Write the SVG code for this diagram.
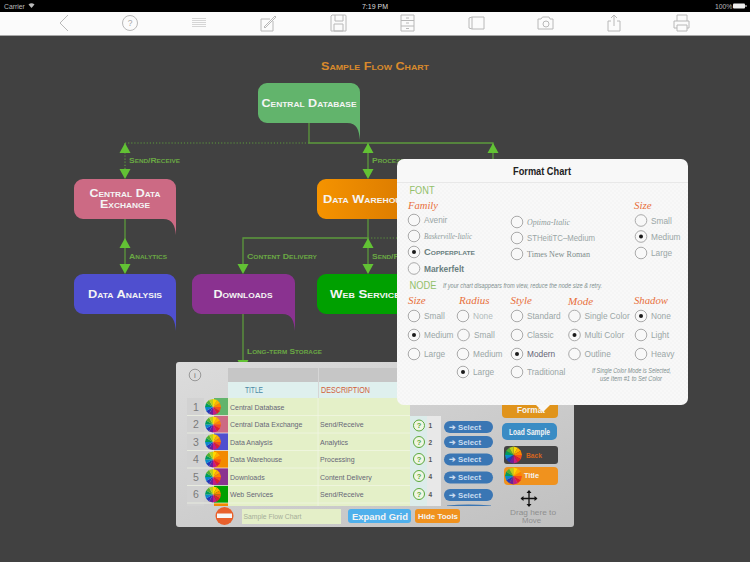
<svg xmlns="http://www.w3.org/2000/svg" width="750" height="562" viewBox="0 0 750 562">
<style>
.sans{font-family:"Liberation Sans",Arial,sans-serif}
.node-shape{stroke:none}
.nt{font-family:"Liberation Sans",Arial,sans-serif;font-variant:small-caps;font-weight:700;fill:#f4f4f4;font-size:10.500px;text-anchor:middle}
.cl{font-family:"Liberation Sans",Arial,sans-serif;font-variant:small-caps;font-weight:700;fill:#6aa844;font-size:8px}
.line{stroke:#5c9a3c;stroke-width:1.300;fill:none}
.dot{stroke:#5c9a3c;stroke-width:1.200;fill:none;stroke-dasharray:1.200 1.900}
.ah{fill:#62c234}
.icon{stroke:#b8b8b8;stroke-width:1;fill:none}
.head{font-family:"Liberation Serif","Times New Roman",serif;font-style:italic;fill:#e8703c;font-size:11px}
.sec{font-family:"Liberation Sans",Arial,sans-serif;fill:#93c06a;font-size:10px}
.r{fill:#f8f8f8;stroke:#aaa;stroke-width:1}
.d{fill:#1a1a1a}
.o{font-family:"Liberation Sans",Arial,sans-serif;fill:#9aa6a6;font-size:8.300px}
.oi{font-family:"Liberation Serif","Times New Roman",serif;font-style:italic;fill:#8f9c9c;font-size:9px}
.note{font-family:"Liberation Sans",Arial,sans-serif;font-style:italic;fill:#7f8f8f;font-size:6.800px}
.cell{font-family:"Liberation Sans",Arial,sans-serif;fill:#667;font-size:7px}
.num{font-family:"Liberation Sans",Arial,sans-serif;fill:#7a7a7a;font-size:10.500px;text-anchor:middle}
.sel{fill:#3a76b4}
.seltx{font-family:"Liberation Sans",Arial,sans-serif;font-weight:700;fill:#c8dcf0;font-size:7.500px}
.hand{font-family:"Liberation Sans",Arial,sans-serif;font-weight:700;fill:#f4f4f4}
.q{fill:#f0f6e4;stroke:#5aa83c;stroke-width:1}
.qt{font-family:"Liberation Sans",Arial,sans-serif;fill:#5aa83c;font-size:7.500px;text-anchor:middle;font-weight:700}
.n2{font-family:"Liberation Sans",Arial,sans-serif;fill:#555;font-size:6.500px;font-weight:700}
</style>
<defs>
<pattern id="tex" width="4" height="4" patternUnits="userSpaceOnUse"><circle cx="1" cy="1" r=".7" fill="#eeeeee"/><circle cx="3" cy="3" r=".7" fill="#eeeeee"/></pattern>
<linearGradient id="toolbg" x1="0" y1="0" x2="1" y2="1"><stop offset="0" stop-color="#dcdcdc"/><stop offset="1" stop-color="#c0c0c0"/></linearGradient>
<linearGradient id="orangeg" x1="0" y1="0" x2="1" y2="0"><stop offset="0" stop-color="#f59300"/><stop offset="1" stop-color="#d87800"/></linearGradient>
<symbol id="wheel" viewBox="-10 -10 20 20" overflow="visible">
<path d="M0,0L0,-10L5,-8.660Z" fill="#ffd800"/><path d="M0,0L5,-8.660L8.660,-5Z" fill="#ffb000"/><path d="M0,0L8.660,-5L10,0Z" fill="#ff8400"/>
<path d="M0,0L10,0L8.660,5Z" fill="#f4501c"/><path d="M0,0L8.660,5L5,8.660Z" fill="#e01c30"/><path d="M0,0L5,8.660L0,10Z" fill="#c41a84"/>
<path d="M0,0L0,10L-5,8.660Z" fill="#6a1f9c"/><path d="M0,0L-5,8.660L-8.660,5Z" fill="#2238b8"/><path d="M0,0L-8.660,5L-10,0Z" fill="#0a88cc"/>
<path d="M0,0L-10,0L-8.660,-5Z" fill="#009c5c"/><path d="M0,0L-8.660,-5L-5,-8.660Z" fill="#52b030"/><path d="M0,0L-5,-8.660L0,-10Z" fill="#b8d020"/>
</symbol>
</defs>

<rect width="750" height="562" fill="#414141"/>

<g id="statusbar">
<rect width="750" height="12" fill="#000"/>
<text class="sans" x="4" y="8.500" font-size="6.800" fill="#bbb">Carrier</text>
<path d="M28.500,4.500Q31.500,2 34.500,4.500L31.500,8Z" fill="#bbb"/>
<text class="sans" x="375" y="8.500" font-size="7" fill="#ddd" text-anchor="middle">7:19 PM</text>
<text class="sans" x="715" y="8.500" font-size="6.800" fill="#bbb">100%</text>
<rect x="733" y="3.500" width="12" height="5" rx="1" fill="#eee"/><rect x="745.500" y="5" width="1" height="2" fill="#eee"/>
</g>

<g id="toolbar">
<rect y="12" width="750" height="23" fill="#fbfbfb"/>
<rect y="35" width="750" height="1" fill="#a8a8a8"/>
<path class="icon" d="M68,15L60,23L68,31"/>
<circle class="icon" cx="130" cy="23" r="7.500"/><text class="sans" x="130" y="26" font-size="8.500" fill="#a8a8a8" text-anchor="middle">?</text>
<path class="icon" style="stroke-width:.7;stroke:#c4c4c4" d="M192,18.500H206M192,20.500H206M192,22.500H206M192,24.500H206M192,26.500H206"/>
<path class="icon" d="M273,21V31H261V19H270M264,27L275,16L276,17L265,28Z"/>
<path class="icon" d="M332,15H345A1,1 0 0 1 346,16V31H331V16ZM335,15V21H343V15M334,24H343V31H334Z"/>
<path class="icon" d="M401,15H414V31H401ZM401,20.500H414M401,26H414M406,18H409M406,23H409M406,28.500H409"/>
<path class="icon" d="M472,17H484V29H472ZM472,17L469,18V28L472,29"/>
<path class="icon" d="M538,19H541L542.500,17H549L550,19H553V29H538Z"/><circle class="icon" cx="546" cy="24" r="3"/>
<path class="icon" d="M611,21H608V31H620V21H617M614,26V15M611,18L614,15L617,18"/>
<path class="icon" d="M677,21V15H687V21M677,28H674V21H689V28H687M677,25H687V31H677Z"/>
</g>

<text id="chart-title" class="sans" x="321" y="70" font-size="10" font-weight="700" fill="#d98a2c" style="font-variant:small-caps" textLength="108" lengthAdjust="spacingAndGlyphs">Sample Flow Chart</text>

<g id="connectors">
<path class="line" d="M309,123V143H493V159"/>
<path class="dot" d="M125,143H309"/>
<path class="dot" d="M125,143V170"/>
<path class="line" d="M368,143V170"/>
<path class="line" d="M125,219V265"/>
<path class="line" d="M368,219V265"/>
<path class="line" d="M368,238H243V265"/>
<path class="dot" d="M368,238H397"/>
<path class="line" d="M243,314V362"/>
<polygon class="ah" points="125,143 130.500,153 119.500,153"/>
<polygon class="ah" points="125,179 119.500,169 130.500,169"/>
<polygon class="ah" points="368,143 373.500,153 362.500,153"/>
<polygon class="ah" points="368,179 362.500,169 373.500,169"/>
<polygon class="ah" points="493,143 498.500,153 487.500,153"/>
<polygon class="ah" points="125,238 130.500,248 119.500,248"/>
<polygon class="ah" points="125,274 119.500,264 130.500,264"/>
<polygon class="ah" points="368,238 373.500,248 362.500,248"/>
<polygon class="ah" points="368,274 362.500,264 373.500,264"/>
<polygon class="ah" points="243,274 237.500,264 248.500,264"/>
<polygon class="ah" points="243,370 237.500,360 248.500,360"/>
<text class="cl" x="129" y="163" textLength="51" lengthAdjust="spacingAndGlyphs">Send/Receive</text>
<text class="cl" x="372" y="163" textLength="44" lengthAdjust="spacingAndGlyphs">Processing</text>
<text class="cl" x="129" y="258.500" textLength="38" lengthAdjust="spacingAndGlyphs">Analytics</text>
<text class="cl" x="247" y="258.500" textLength="70" lengthAdjust="spacingAndGlyphs">Content Delivery</text>
<text class="cl" x="372" y="258.500" textLength="51" lengthAdjust="spacingAndGlyphs">Send/Receive</text>
<text class="cl" x="247" y="354" textLength="75" lengthAdjust="spacingAndGlyphs">Long-term Storage</text>
</g>

<g id="node-central-database">
<path class="node-shape" fill="#62b46c" d="M267,83H351A9,9 0 0 1 360,92V140C359,130 357,123 347,123H267A9,9 0 0 1 258,114V92A9,9 0 0 1 267,83Z"/>
<text class="nt" x="309" y="107" textLength="95" lengthAdjust="spacingAndGlyphs">Central Database</text>
</g>
<g id="node-central-data-exchange">
<path class="node-shape" fill="#cc6a84" d="M83,179H167A9,9 0 0 1 176,188V235C175,226 173,219 163,219H83A9,9 0 0 1 74,210V188A9,9 0 0 1 83,179Z"/>
<text class="nt" x="125" y="197" textLength="71" lengthAdjust="spacingAndGlyphs">Central Data</text>
<text class="nt" x="125" y="208" textLength="50" lengthAdjust="spacingAndGlyphs">Exchange</text>
</g>
<g id="node-data-warehouse">
<path class="node-shape" fill="url(#orangeg)" d="M326,179H410A9,9 0 0 1 419,188V235C418,226 416,219 406,219H326A9,9 0 0 1 317,210V188A9,9 0 0 1 326,179Z"/>
<text class="nt" x="368" y="202.500" textLength="90" lengthAdjust="spacingAndGlyphs">Data Warehouse</text>
</g>
<g id="node-data-analysis">
<path class="node-shape" fill="#4f4fcf" d="M83,274H167A9,9 0 0 1 176,283V331C175,321 173,314 163,314H83A9,9 0 0 1 74,305V283A9,9 0 0 1 83,274Z"/>
<text class="nt" x="125" y="298" textLength="74" lengthAdjust="spacingAndGlyphs">Data Analysis</text>
</g>
<g id="node-downloads">
<path class="node-shape" fill="#8a3290" d="M201,274H286A9,9 0 0 1 295,283V331C294,321 292,314 282,314H201A9,9 0 0 1 192,305V283A9,9 0 0 1 201,274Z"/>
<text class="nt" x="243" y="298" textLength="59" lengthAdjust="spacingAndGlyphs">Downloads</text>
</g>
<g id="node-web-services">
<path class="node-shape" fill="#00a000" d="M326,274H410A9,9 0 0 1 419,283V331C418,321 416,314 406,314H326A9,9 0 0 1 317,305V283A9,9 0 0 1 326,274Z"/>
<text class="nt" x="368" y="298" textLength="76" lengthAdjust="spacingAndGlyphs">Web Services</text>
</g>

<g id="tools-panel">
<rect x="176" y="362" width="398" height="165" rx="3" fill="url(#toolbg)"/>
<circle cx="195" cy="375" r="5.800" fill="none" stroke="#888" stroke-width=".8"/>
<text class="sans" x="195" y="378" font-size="8" fill="#777" text-anchor="middle">i</text>
<rect x="228" y="368" width="182" height="14" fill="#c6c6c6"/>
<rect x="228" y="382" width="182" height="16" fill="#dff0ee"/>
<rect x="318" y="368" width="1" height="30" fill="#d6d6d6"/>
<text class="sans" x="245" y="392.500" font-size="9" fill="#4a88a4" textLength="18" lengthAdjust="spacingAndGlyphs">TITLE</text>
<text class="sans" x="321" y="393" font-size="9" fill="#d0603c" textLength="49" lengthAdjust="spacingAndGlyphs">DESCRIPTION</text>

<rect x="228" y="398" width="182" height="108" fill="#e4f0c8"/>
<rect x="187" y="398" width="17" height="108" fill="#d2d2d2"/>
<rect x="214" y="398" width="14" height="17.500" fill="#62b46c"/>
<rect x="214" y="415.500" width="14" height="17.500" fill="#cc6a84"/>
<rect x="214" y="433" width="14" height="17.500" fill="#4f4fcf"/>
<rect x="214" y="450.500" width="14" height="17.500" fill="#f28a00"/>
<rect x="214" y="468" width="14" height="17.500" fill="#8a3290"/>
<rect x="214" y="485.500" width="14" height="17.500" fill="#00a000"/>
<rect x="214" y="503" width="14" height="3" fill="#f28a00"/>
<path d="M187,415.500H410M187,433H410M187,450.500H410M187,468H410M187,485.500H410M187,503H410M318,398V506" stroke="#f2f6e6" stroke-width=".7" fill="none"/>
<text class="num" x="196" y="410.500">1</text><text class="num" x="196" y="428">2</text><text class="num" x="196" y="445.500">3</text><text class="num" x="196" y="463">4</text><text class="num" x="196" y="480.500">5</text><text class="num" x="196" y="498">6</text>
<use href="#wheel" x="205" y="399" width="16" height="16"/>
<use href="#wheel" x="205" y="416.500" width="16" height="16"/>
<use href="#wheel" x="205" y="434" width="16" height="16"/>
<use href="#wheel" x="205" y="451.500" width="16" height="16"/>
<use href="#wheel" x="205" y="469" width="16" height="16"/>
<use href="#wheel" x="205" y="486.500" width="16" height="16"/>
<text class="cell" x="230" y="409.500">Central Database</text>
<text class="cell" x="230" y="427">Central Data Exchange</text><text class="cell" x="320" y="427">Send/Receive</text>
<text class="cell" x="230" y="444.500">Data Analysis</text><text class="cell" x="320" y="444.500">Analytics</text>
<text class="cell" x="230" y="462">Data Warehouse</text><text class="cell" x="320" y="462">Processing</text>
<text class="cell" x="230" y="479.500">Downloads</text><text class="cell" x="320" y="479.500">Content Delivery</text>
<text class="cell" x="230" y="497">Web Services</text><text class="cell" x="320" y="497">Send/Receive</text>

<rect x="410" y="416" width="17" height="90" fill="#dcecea"/>
<rect x="427" y="416" width="14" height="90" fill="#e8e8e8"/>
<circle class="q" cx="419" cy="425.500" r="5.500"/><text class="qt" x="419" y="428.300">?</text>
<circle class="q" cx="419" cy="442" r="5.500"/><text class="qt" x="419" y="444.800">?</text>
<circle class="q" cx="419" cy="459" r="5.500"/><text class="qt" x="419" y="461.800">?</text>
<circle class="q" cx="419" cy="476" r="5.500"/><text class="qt" x="419" y="478.800">?</text>
<circle class="q" cx="419" cy="494" r="5.500"/><text class="qt" x="419" y="496.800">?</text>
<text class="n2" x="428.500" y="428">1</text><text class="n2" x="428.500" y="444.500">2</text><text class="n2" x="428.500" y="461.500">1</text><text class="n2" x="428.500" y="478.500">4</text><text class="n2" x="428.500" y="496.500">4</text>

<rect class="sel" x="444" y="421" width="49" height="12" rx="6"/><text class="seltx" x="449" y="429.500">➔</text><text class="seltx" x="458" y="429.500" textLength="23" lengthAdjust="spacingAndGlyphs">Select</text>
<rect class="sel" x="444" y="436" width="49" height="12" rx="6"/><text class="seltx" x="449" y="444.500">➔</text><text class="seltx" x="458" y="444.500" textLength="23" lengthAdjust="spacingAndGlyphs">Select</text>
<rect class="sel" x="444" y="453.500" width="49" height="12" rx="6"/><text class="seltx" x="449" y="462">➔</text><text class="seltx" x="458" y="462" textLength="23" lengthAdjust="spacingAndGlyphs">Select</text>
<rect class="sel" x="444" y="471.500" width="49" height="12" rx="6"/><text class="seltx" x="449" y="480">➔</text><text class="seltx" x="458" y="480" textLength="23" lengthAdjust="spacingAndGlyphs">Select</text>
<rect class="sel" x="444" y="489" width="49" height="12" rx="6"/><text class="seltx" x="449" y="497.500">➔</text><text class="seltx" x="458" y="497.500" textLength="23" lengthAdjust="spacingAndGlyphs">Select</text>
<path d="M447,505.500Q468,503.500 491,505.500V506H447Z" fill="#3a76b4"/>

<rect x="502" y="395" width="56" height="23" rx="4" fill="#e0941c"/>
<text class="hand" x="517" y="413" font-size="9.500" textLength="28" lengthAdjust="spacingAndGlyphs">Format</text>
<rect x="502" y="423" width="55" height="17" rx="5" fill="#3a8cc4"/>
<text class="hand" x="509" y="435" font-size="9" textLength="41" lengthAdjust="spacingAndGlyphs">Load Sample</text>
<rect x="504" y="446" width="54" height="18" rx="3" fill="#444"/>
<use href="#wheel" x="505" y="446.500" width="17" height="17"/>
<text class="hand" x="526" y="457.500" font-size="6.500" style="fill:#d4641e" textLength="16" lengthAdjust="spacingAndGlyphs">Back</text>
<rect x="504" y="467" width="54" height="18" rx="4" fill="#f0921e"/>
<use href="#wheel" x="505" y="467.500" width="17" height="17"/>
<text class="hand" x="524" y="478" font-size="6.500" textLength="15" lengthAdjust="spacingAndGlyphs">Title</text>
<path d="M529,491V506M521.500,498.500H536.500" stroke="#111" stroke-width="1.300"/>
<path d="M529,490L526.500,493H531.500ZM529,507L526.500,504H531.500ZM520.500,498.500L523.500,496V501ZM537.500,498.500L534.500,496V501Z" fill="#111"/>
<text class="hand" x="510" y="514.500" font-size="6.800" style="fill:#8f8f8f;font-weight:400" textLength="46" lengthAdjust="spacingAndGlyphs">Drag here to</text>
<text class="hand" x="522" y="523" font-size="6.800" style="fill:#8f8f8f;font-weight:400" textLength="19" lengthAdjust="spacingAndGlyphs">Move</text>

<circle cx="224.500" cy="516" r="9" fill="#e8602c"/>
<rect x="217" y="513.500" width="15" height="4.500" fill="#f6f6f6"/>
<rect x="242" y="509" width="99" height="15" fill="#e4efc8"/>
<text class="sans" x="243.500" y="519" font-size="7" fill="#a4ae98" textLength="58" lengthAdjust="spacingAndGlyphs">Sample Flow Chart</text>
<rect x="348" y="509" width="63" height="14" rx="3" fill="#4fb0ec"/>
<text class="hand" x="352" y="519.500" font-size="8.500" textLength="56" lengthAdjust="spacingAndGlyphs">Expand Grid</text>
<rect x="415" y="509" width="45" height="14" rx="3" fill="#f0921e"/>
<text class="hand" x="418" y="519" font-size="8" textLength="40" lengthAdjust="spacingAndGlyphs">Hide Tools</text>
</g>

<g id="format-panel">
<rect x="397" y="159" width="291" height="246" rx="7" fill="#f8f8f8"/>
<rect x="397" y="182" width="291" height="223" rx="7" fill="url(#tex)"/>
<rect x="397" y="182" width="291" height="1" fill="#e8e8e8"/>
<text class="sans" x="513" y="175" font-size="10" font-weight="700" fill="#222" textLength="58" lengthAdjust="spacingAndGlyphs">Format Chart</text>
<text class="sec" x="409.500" y="194" textLength="25" lengthAdjust="spacingAndGlyphs">FONT</text>
<text class="head" x="408" y="208.500" textLength="30" lengthAdjust="spacingAndGlyphs">Family</text>
<text class="head" x="634" y="209">Size</text>

<circle class="r" cx="414" cy="220" r="5.800"/><text class="o" x="424" y="223">Avenir</text>
<circle class="r" cx="414" cy="236" r="5.800"/><text class="oi" x="424" y="239" textLength="48" lengthAdjust="spacingAndGlyphs">Baskerville-Italic</text>
<circle class="r" cx="414" cy="252" r="5.800"/><circle class="d" cx="414" cy="252" r="2"/><text class="o" x="424" y="255" style="font-weight:700;font-variant:small-caps;fill:#6a7f7f;font-size:8.500px" textLength="51" lengthAdjust="spacingAndGlyphs">Copperplate</text>
<circle class="r" cx="414" cy="268.500" r="5.800"/><text class="o" x="424" y="271.500" style="font-weight:700;fill:#6a7f7f;font-size:8.500px" textLength="40" lengthAdjust="spacingAndGlyphs">Markerfelt</text>
<circle class="r" cx="517" cy="222" r="5.800"/><text class="oi" x="527" y="225" textLength="43" lengthAdjust="spacingAndGlyphs">Optima-Italic</text>
<circle class="r" cx="517" cy="238" r="5.800"/><text class="o" x="527" y="241" textLength="68" lengthAdjust="spacingAndGlyphs">STHeitiTC–Medium</text>
<circle class="r" cx="517" cy="254" r="5.800"/><text class="o" x="527" y="257" style="font-family:'Liberation Serif',serif;font-size:9px;fill:#7f8c8c" textLength="63" lengthAdjust="spacingAndGlyphs">Times New Roman</text>
<circle class="r" cx="641" cy="220.500" r="5.800"/><text class="o" x="651" y="223.500">Small</text>
<circle class="r" cx="641" cy="236.500" r="5.800"/><circle class="d" cx="641" cy="236.500" r="2"/><text class="o" x="651" y="239.500">Medium</text>
<circle class="r" cx="641" cy="253" r="5.800"/><text class="o" x="651" y="256">Large</text>

<text class="sec" x="409.500" y="289" textLength="27" lengthAdjust="spacingAndGlyphs">NODE</text>
<text class="note" x="443" y="288" textLength="159" lengthAdjust="spacingAndGlyphs">If your chart disappears from view, reduce the node size &amp; retry.</text>
<text class="head" x="408" y="304">Size</text><text class="head" x="459" y="304">Radius</text><text class="head" x="510.500" y="304">Style</text><text class="head" x="568" y="304.500">Mode</text><text class="head" x="634" y="304" textLength="34" lengthAdjust="spacingAndGlyphs">Shadow</text>

<circle class="r" cx="414" cy="316" r="5.800"/><text class="o" x="424" y="319">Small</text>
<circle class="r" cx="414" cy="335" r="5.800"/><circle class="d" cx="414" cy="335" r="2"/><text class="o" x="424" y="338">Medium</text>
<circle class="r" cx="414" cy="354" r="5.800"/><text class="o" x="424" y="357">Large</text>

<circle class="r" cx="463" cy="316" r="5.800"/><text class="o" x="473" y="319" style="fill:#b0baba">None</text>
<circle class="r" cx="463.500" cy="335" r="5.800"/><text class="o" x="474" y="338">Small</text>
<circle class="r" cx="463" cy="354" r="5.800"/><text class="o" x="473" y="357">Medium</text>
<circle class="r" cx="463" cy="372" r="5.800"/><circle class="d" cx="463" cy="372" r="2"/><text class="o" x="473" y="375">Large</text>

<circle class="r" cx="517" cy="316" r="5.800"/><text class="o" x="527" y="319">Standard</text>
<circle class="r" cx="517" cy="335" r="5.800"/><text class="o" x="527" y="338">Classic</text>
<circle class="r" cx="517" cy="354" r="5.800"/><circle class="d" cx="517" cy="354" r="2"/><text class="o" x="527" y="357" style="fill:#667">Modern</text>
<circle class="r" cx="517" cy="372" r="5.800"/><text class="o" x="527" y="375">Traditional</text>

<circle class="r" cx="574.500" cy="316" r="5.800"/><text class="o" x="584.500" y="319">Single Color</text>
<circle class="r" cx="574.500" cy="335" r="5.800"/><circle class="d" cx="574.500" cy="335" r="2"/><text class="o" x="584.500" y="338">Multi Color</text>
<circle class="r" cx="574.500" cy="354" r="5.800"/><text class="o" x="584.500" y="357">Outline</text>

<circle class="r" cx="641" cy="316" r="5.800"/><circle class="d" cx="641" cy="316" r="2"/><text class="o" x="651" y="319">None</text>
<circle class="r" cx="641" cy="335" r="5.800"/><text class="o" x="651" y="338">Light</text>
<circle class="r" cx="641" cy="354" r="5.800"/><text class="o" x="651" y="357">Heavy</text>

<text class="note" x="592" y="373" textLength="79" lengthAdjust="spacingAndGlyphs">If Single Color Mode is Selected,</text>
<text class="note" x="600" y="380.500" textLength="62" lengthAdjust="spacingAndGlyphs">use Item #1 to Set Color</text>
</g>
<polygon points="536,405 550,405 543,412" fill="#f8f8f8"/>
</svg>
